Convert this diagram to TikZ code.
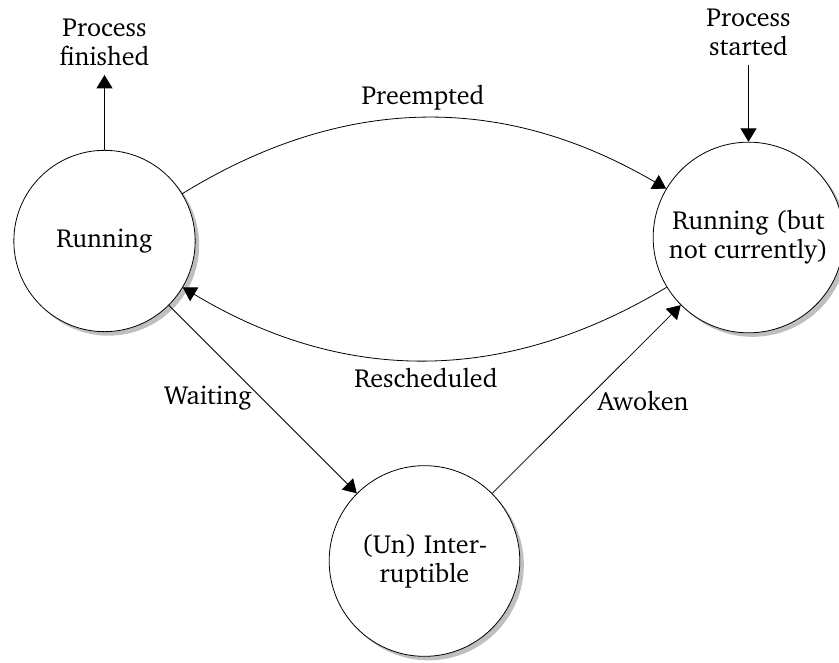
\documentclass[tikz,border=0pt]{standalone}
\usepackage[T1]{fontenc}
\usepackage{charter}
\usetikzlibrary{arrows.meta,shadows}
\begin{document}
\begin{tikzpicture}[x=0.75pt,y=0.75pt,
  every node/.style={font=\fontsize{19.6}{21.8}\selectfont},
  state/.style={circle, draw, line width=0.6pt, fill=white, align=center, inner sep=0pt,
    drop shadow={shadow xshift=3pt, shadow yshift=-3pt, fill=black!25, opacity=1}},
  conn/.style={-{Triangle[length=10pt,width=12pt]}, line width=0.6pt},
  lbl/.style={align=center, inner sep=0pt}]
\useasboundingbox (0,0) rectangle (839,662);

% states
\node[state, minimum size=136pt] (run) at (104.5,421) {Running};
\node[state, minimum size=143pt] (rnc) at (748.5,424.5) {Running (but\\not currently)};
\node[state, minimum size=143pt] (int) at (424.5,101) {(Un) Inter-\\ruptible};

% entry and exit
\node[lbl] (fin) at (104.5,620) {Process\\finished};
\coordinate (finend) at (104.5,587);
\node[lbl] (sta) at (748.5,630) {Process\\started};
\coordinate (stabeg) at (748.5,597);
\draw[conn] (run) -- (finend);
\draw[conn] (stabeg) -- (rnc);

% transitions
\draw[conn] (run) to[bend left=31] (rnc);
\draw[conn] (rnc) to[bend left=31] (run);
\draw[conn] (run) -- (int);
\draw[conn] (int) -- (rnc);

% transition labels
\node[lbl] (lpre) at (423,564) {Preempted};
\node[lbl] (lres) at (426,284) {Rescheduled};
\node[lbl] (lwai) at (208,264) {Waiting};
\node[lbl] (lawo) at (643,261) {Awoken};
\end{tikzpicture}
\end{document}
